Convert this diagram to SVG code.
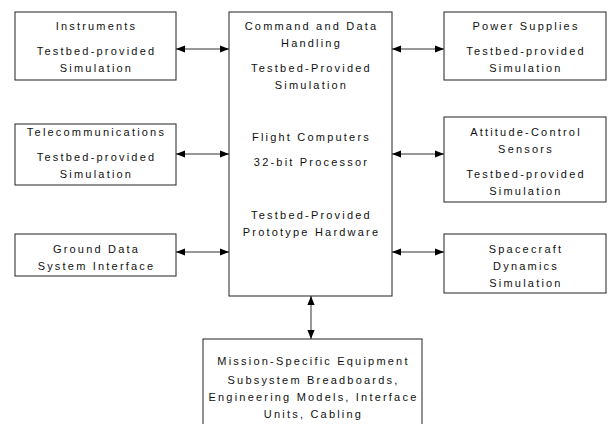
<svg xmlns="http://www.w3.org/2000/svg" width="608" height="424" viewBox="0 0 608 424">
  <style>
    .box { fill: #fff; stroke: #222; stroke-width: 1; }
    .lbl { font-family: "Liberation Sans", Arial, sans-serif; font-size: 11px; letter-spacing: 2.2px; fill: #111; text-anchor: middle; }
    .link { stroke: #333; stroke-width: 1; fill: none; marker-start: url(#head); marker-end: url(#head); }
  </style>
  <defs>
    <marker id="head" viewBox="0 0 10 8" refX="10" refY="4" markerWidth="9" markerHeight="7.2" markerUnits="userSpaceOnUse" orient="auto-start-reverse">
      <path d="M0,0 L10,4 L0,8 Z" fill="#000"/>
    </marker>
  </defs>

  <rect x="0" y="0" width="608" height="424" fill="#fff"/>

  <!-- connectors -->
  <g id="connectors">
    <line class="link" x1="176" y1="49" x2="229" y2="49"/>
    <line class="link" x1="176" y1="154" x2="229" y2="154"/>
    <line class="link" x1="176" y1="252" x2="229" y2="252"/>
    <line class="link" x1="392" y1="49" x2="444" y2="49"/>
    <line class="link" x1="392" y1="154" x2="444" y2="154"/>
    <line class="link" x1="392" y1="252" x2="444" y2="252"/>
    <line class="link" x1="311" y1="296" x2="311" y2="339"/>
  </g>

  <g id="instruments">
    <rect class="box" x="15" y="12" width="161" height="68"/>
    <text class="lbl" x="96.5" y="30">Instruments</text>
    <text class="lbl" x="96.5" y="55">Testbed-provided</text>
    <text class="lbl" x="96.5" y="72">Simulation</text>
  </g>

  <g id="telecommunications">
    <rect class="box" x="15" y="124" width="161" height="61"/>
    <text class="lbl" x="96.5" y="136">Telecommunications</text>
    <text class="lbl" x="96.5" y="161">Testbed-provided</text>
    <text class="lbl" x="96.5" y="178">Simulation</text>
  </g>

  <g id="ground-data">
    <rect class="box" x="15" y="234" width="161" height="42"/>
    <text class="lbl" x="96.5" y="253">Ground Data</text>
    <text class="lbl" x="96.5" y="270">System Interface</text>
  </g>

  <g id="cdh">
    <rect class="box" x="229" y="12" width="163" height="284"/>
    <text class="lbl" x="311.5" y="30">Command and Data</text>
    <text class="lbl" x="311.5" y="47">Handling</text>
    <text class="lbl" x="311.5" y="72">Testbed-Provided</text>
    <text class="lbl" x="311.5" y="89">Simulation</text>
    <text class="lbl" x="311.5" y="141">Flight Computers</text>
    <text class="lbl" x="311.5" y="166">32-bit Processor</text>
    <text class="lbl" x="311.5" y="219">Testbed-Provided</text>
    <text class="lbl" x="311.5" y="236">Prototype Hardware</text>
  </g>

  <g id="power-supplies">
    <rect class="box" x="444" y="12" width="162" height="68"/>
    <text class="lbl" x="526" y="30">Power Supplies</text>
    <text class="lbl" x="526" y="55">Testbed-provided</text>
    <text class="lbl" x="526" y="72">Simulation</text>
  </g>

  <g id="attitude-sensors">
    <rect class="box" x="444" y="117" width="162" height="85"/>
    <text class="lbl" x="526" y="136">Attitude-Control</text>
    <text class="lbl" x="526" y="153">Sensors</text>
    <text class="lbl" x="526" y="178">Testbed-provided</text>
    <text class="lbl" x="526" y="195">Simulation</text>
  </g>

  <g id="spacecraft-dynamics">
    <rect class="box" x="444" y="234" width="162" height="59"/>
    <text class="lbl" x="526" y="253">Spacecraft</text>
    <text class="lbl" x="526" y="270">Dynamics</text>
    <text class="lbl" x="526" y="287">Simulation</text>
  </g>

  <g id="mission-equipment">
    <rect class="box" x="203" y="339" width="219" height="95"/>
    <text class="lbl" x="313.5" y="365">Mission-Specific Equipment</text>
    <text class="lbl" x="313.5" y="384">Subsystem Breadboards,</text>
    <text class="lbl" x="313.5" y="401">Engineering Models, Interface</text>
    <text class="lbl" x="313.5" y="418">Units, Cabling</text>
  </g>
</svg>
